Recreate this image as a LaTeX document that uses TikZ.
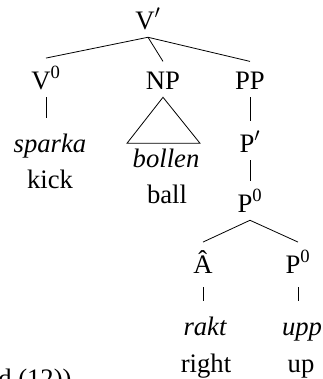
\documentclass[tikz,border=0pt]{standalone}
\usepackage{fontspec}
\setmainfont{Liberation Serif}
\usetikzlibrary{positioning}
\tikzset{
  cat/.style={anchor=base, inner sep=0pt, text height=20.5pt, text depth=6pt},
  tallcat/.style={cat, text height=23pt},
  word/.style={anchor=base, inner sep=0pt, text height=25.5pt, text depth=0pt, execute at begin node=\itshape},
  gloss/.style={anchor=base, inner sep=0pt},
  branch/.style={line width=0.6pt}
}

\begin{document}
\begin{tikzpicture}[x=0.75pt, y=-0.75pt, font=\fontsize{20pt}{27pt}\selectfont]
				\useasboundingbox (0,0) rectangle (323,379);
				\clip (0,0) rectangle (323,379);
				
				\node[cat] (Vbar) at (148,29) {V$'$};
				\node[tallcat] (V0) at (46,89) {V\textsuperscript{0}};
				\node[cat] (NP) at (163,89) {NP};
				\node[cat] (PP) at (250,89) {PP};
				
				\node[word] (sparka) at (50,152) {sparka};
				\node[gloss] (kick) at (50,188) {kick};
				\node[word, text height=18pt] (bollen) at (166,167) {bollen};
				\node[gloss] (ball) at (167,203) {ball};
				
				\node[tallcat] (Pbar) at (250,152) {P$'$};
				\node[tallcat] (P0) at (250,212) {P\textsuperscript{0}};
				\node[tallcat, text depth=10.5pt] (Ahat) at (203,273) {Â};
				\node[tallcat, text depth=10.5pt] (P0b) at (298,273) {P\textsuperscript{0}};
				
				\node[word] (rakt) at (205,335) {rakt};
				\node[gloss] (right) at (206,372) {right};
				\node[word] (upp) at (302,335) {upp};
				\node[gloss] (up) at (301,372) {up};
				
				\node[gloss, anchor=base west] (cont) at (-2,387) {d (12))};
				
				\draw[branch] (Vbar.south) -- (V0.north);
				\draw[branch] (Vbar.south) -- (NP.north);
				\draw[branch] (Vbar.south) -- (PP.north);
				\draw[branch] (V0.south) -- (V0.south |- sparka.north);
				\draw[branch] (NP.south) -- ++(-36,46) -- ++(73,0) -- cycle;
				\draw[branch] (PP.south) -- (Pbar.north);
				\draw[branch] (Pbar.south) -- (P0.north);
				\draw[branch] (P0.south) -- (Ahat.north);
				\draw[branch] (P0.south) -- (P0b.north);
				\draw[branch] (Ahat.south) -- (Ahat.south |- rakt.north);
				\draw[branch] (P0b.south) -- (P0b.south |- upp.north);
			\end{tikzpicture}
\end{document}
